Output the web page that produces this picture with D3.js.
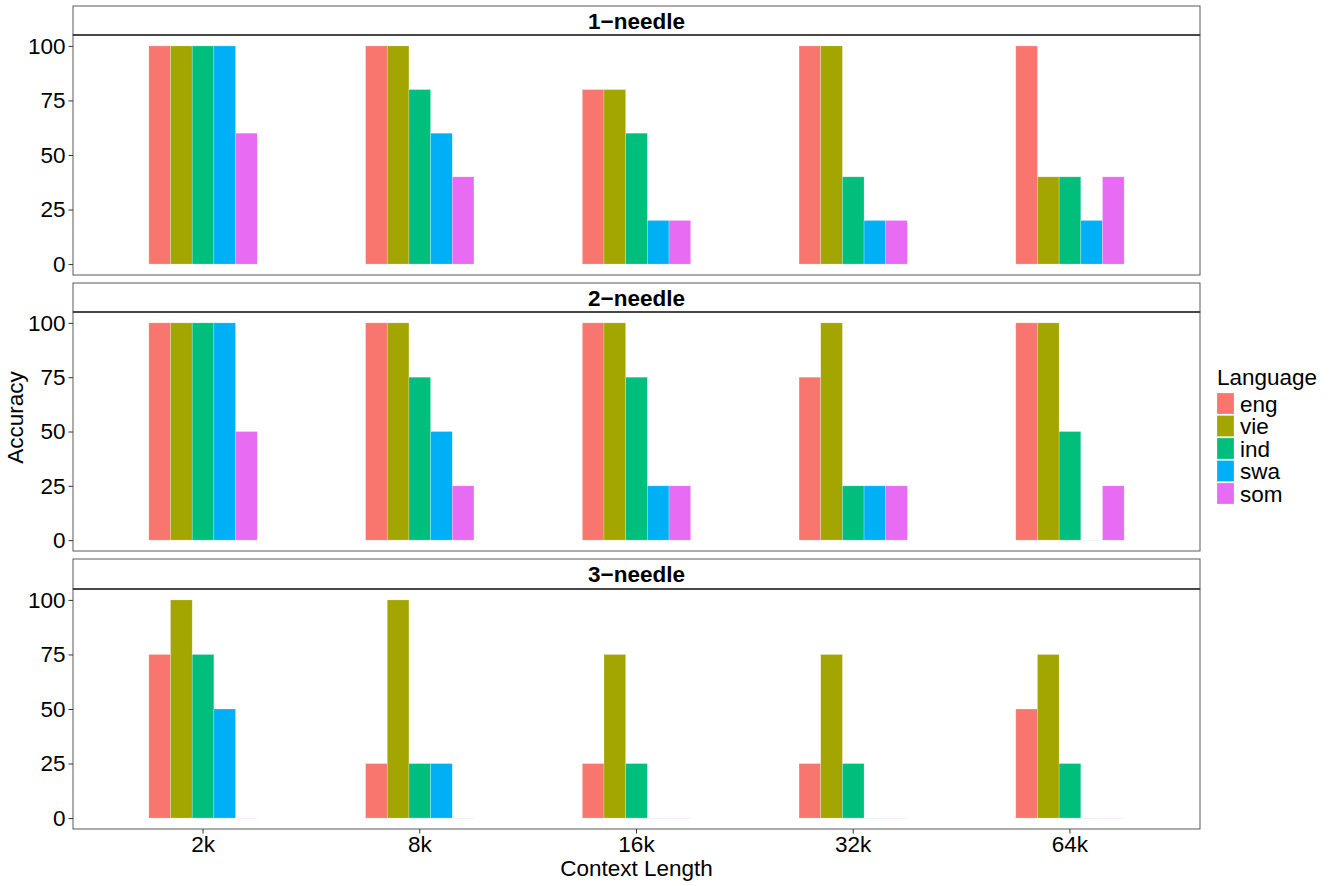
<!DOCTYPE html>
<html>
<head>
<meta charset="utf-8">
<script src="https://cdn.jsdelivr.net/npm/d3@7"></script>
<style>
    body { margin: 0; background: #fff; }
    svg text { font-family: "Liberation Sans", Arial, sans-serif; fill: #000; }
</style>
</head>
<body>
<svg id="chart" width="1329" height="886"></svg>
<script>
// data
const contexts= ["2k", "8k", "16k", "32k", "64k"]
const languages= ["eng", "vie", "ind", "swa", "som"]
const colors= ["#F8766D", "#A3A500", "#00BF7D", "#00B0F6", "#E76BF3"]
const facets= ["1-needle", "2-needle", "3-needle"]
const yTicks= [0, 25, 50, 75, 100]

// accuracy[context][language]
const needle1= [
    [100, 100, 100, 100, 60],
    [100, 100, 80, 60, 40],
    [80, 80, 60, 20, 20],
    [100, 100, 40, 20, 20],
    [100, 40, 40, 20, 40],
]
const needle2= [
    [100, 100, 100, 100, 50],
    [100, 100, 75, 50, 25],
    [100, 100, 75, 25, 25],
    [75, 100, 25, 25, 25],
    [100, 100, 50, 0, 25],
]
const needle3= [
    [75, 100, 75, 50, 0],
    [25, 100, 25, 25, 0],
    [25, 75, 25, 0, 0],
    [25, 75, 25, 0, 0],
    [50, 75, 25, 0, 0],
]
const facetData= [needle1, needle2, needle3]

const svg= d3.select("#chart")

// layout
const left= 73, right= 1200
const panels= [
    {stripTop: 6, top: 35, bottom: 275},
    {stripTop: 283, top: 312, bottom: 551},
    {stripTop: 559, top: 589, bottom: 829},
]

const x= d3.scaleBand()
    .domain(contexts)
    .range([left, right])
    .paddingInner(0.5)
    .paddingOuter(0.35)

const xInner= d3.scaleBand()
    .domain(languages)
    .range([0, x.bandwidth()])

const color= d3.scaleOrdinal().domain(languages).range(colors)

panels.forEach((p, i) => {
    const y= d3.scaleLinear().domain([-5, 105]).range([p.bottom, p.top])
    const g= svg.append("g")

    // strip
    g.append("rect")
        .attr("x", left).attr("y", p.stripTop)
        .attr("width", right-left).attr("height", p.top-p.stripTop)
        .attr("fill", "#fff").attr("stroke", "#5a5a5a").attr("stroke-width", 1)
    g.append("text")
        .attr("x", (left+right)/2).attr("y", (p.stripTop+p.top)/2)
        .attr("dy", "0.36em")
        .attr("text-anchor", "middle")
        .attr("font-size", 22.5).attr("font-weight", "bold")
        .text(facets[i].replace("-", "\u2212"))

    // bars
    facetData[i].forEach((row, ci) => {
        g.append("g")
            .attr("transform", `translate(${x(contexts[ci])},0)`)
            .selectAll("rect")
            .data(row.map((v, li) => ({lang: languages[li], v})))
            .join("rect")
            .attr("x", d => xInner(d.lang))
            .attr("width", xInner.bandwidth())
            .attr("y", d => y(d.v))
            .attr("height", d => Math.max(y(0)-y(d.v), 0.8))
            .attr("fill", d => color(d.lang))
            .attr("fill-opacity", d => d.v === 0 ? 0.2 : 1)
            .attr("stroke", "#fff").attr("stroke-opacity", 0.4).attr("stroke-width", 0.6)
    })

    // panel border
    g.append("rect")
        .attr("x", left).attr("y", p.top)
        .attr("width", right-left).attr("height", p.bottom-p.top)
        .attr("fill", "none").attr("stroke", "#5a5a5a").attr("stroke-width", 1)
    g.append("line")
        .attr("x1", left).attr("x2", right)
        .attr("y1", p.top).attr("y2", p.top)
        .attr("stroke", "#333").attr("stroke-width", 1.4)

    // y axis
    const yAxis= g.append("g")
        .attr("transform", `translate(${left},0)`)
        .call(d3.axisLeft(y).tickValues(yTicks).tickSize(4.5).tickPadding(3))
    yAxis.select(".domain").remove()
    yAxis.selectAll("line").attr("stroke", "#333")
    yAxis.selectAll("text").attr("font-size", 22.5).attr("fill", "#000")
        .style("font-family", "'Liberation Sans', Arial, sans-serif")
})

// x axis (bottom panel only)
const last= panels[panels.length-1]
const xAxis= svg.append("g")
    .attr("transform", `translate(0,${last.bottom})`)
    .call(d3.axisBottom(x).tickSize(4.5).tickPadding(3))
xAxis.select(".domain").remove()
xAxis.selectAll("line").attr("stroke", "#333")
xAxis.selectAll("text").attr("font-size", 22.5).attr("fill", "#000")
    .style("font-family", "'Liberation Sans', Arial, sans-serif")

// axis titles
svg.append("text")
    .attr("x", (left+right)/2).attr("y", 876)
    .attr("text-anchor", "middle").attr("font-size", 22.5)
    .text("Context Length")
svg.append("text")
    .attr("transform", `translate(23,${(panels[0].stripTop+last.bottom)/2}) rotate(-90)`)
    .attr("text-anchor", "middle").attr("font-size", 22.5)
    .text("Accuracy")

// legend
const legend= svg.append("g").attr("transform", "translate(1217,0)")
legend.append("text")
    .attr("x", 0).attr("y", 385)
    .attr("font-size", 22.5)
    .text("Language")
const item= legend.selectAll("g.item")
    .data(languages)
    .join("g")
    .attr("class", "item")
    .attr("transform", (d, i) => `translate(0,${393 + i*22.5})`)
item.append("rect")
    .attr("width", 17).attr("height", 21)
    .attr("fill", d => color(d))
    .attr("stroke", "#fff").attr("stroke-opacity", 0.4).attr("stroke-width", 0.6)
item.append("text")
    .attr("x", 23).attr("y", 10.5).attr("dy", "0.36em")
    .attr("font-size", 22.5)
    .text(d => d)
</script>
</body>
</html>
